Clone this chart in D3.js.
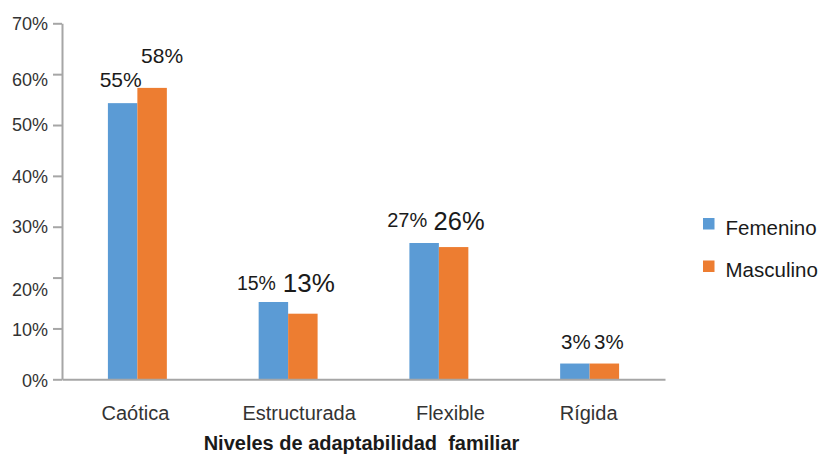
<!DOCTYPE html>
<html>
<head>
<meta charset="utf-8">
<script src="https://cdn.jsdelivr.net/npm/d3@7"></script>
<style>
  html, body { margin: 0; padding: 0; background: #fff; }
  svg { display: block; font-family: "Liberation Sans", Arial, sans-serif; }
</style>
</head>
<body>
<svg id="chart" width="825" height="455"></svg>
<script>
// ---- data ----
const categories = ["Caótica", "Estructurada", "Flexible", "Rígida"];
const seriesNames = ["Femenino", "Masculino"];
const femenino = [54.3, 15.2, 26.8, 3.1];
const masculino = [57.3, 12.9, 26.0, 3.1];
const femeninoLabels = ["55%", "15%", "27%", "3%"];
const masculinoLabels = ["58%", "13%", "26%", "3%"];
const yTickValues = [0, 10, 20, 30, 40, 50, 60, 70];
const yTickLabels = ["0%", "10%", "20%", "30%", "40%", "50%", "60%", "70%"];
const xAxisTitle = "Niveles de adaptabilidad  familiar";

// ---- styling (positions / sizes, kept apart from data) ----
const colors = ["#5B9BD5", "#ED7D31"];
const margin = { left: 62, right: 160, top: 23.3, bottom: 75.7 };
const W = 825, H = 455;
const yLabelShift = [1, 1.7, 11.7, 0.5, 1.3, 0, 6, 0.5];
const xLabelShift = [-2, 11, 11.5, -1];
const labelStyle = [
  // [dx, dyAbove, fontSize] per category, per series
  [[-2, 16.6, 21], [10, 24.4, 21]],
  [[-17, 11.7, 19.5], [6, 21.6, 26]],
  [[-17, 16, 20], [5.5, 17.4, 25.5]],
  [[1, 15, 20.5], [4.5, 15, 20.5]]
];

const svg = d3.select("#chart");
const plotBottom = H - margin.bottom;

const x0 = d3.scaleBand()
  .domain(categories)
  .range([margin.left, W - margin.right])
  .paddingInner(0.609)
  .paddingOuter(0.3045);
const x1 = d3.scaleBand()
  .domain(seriesNames)
  .range([0, x0.bandwidth()]);
const y = d3.scaleLinear().domain([0, 70]).range([plotBottom, margin.top]);

const values = [femenino, masculino];
const labels = [femeninoLabels, masculinoLabels];

// bars
const groups = svg.append("g").selectAll("g")
  .data(categories)
  .join("g")
  .attr("transform", d => `translate(${x0(d)},0)`);

groups.selectAll("rect")
  .data((c, i) => seriesNames.map((s, k) => ({ s, k, i, v: values[k][i] })))
  .join("rect")
  .attr("x", d => x1(d.s))
  .attr("width", x1.bandwidth())
  .attr("y", d => y(d.v))
  .attr("height", d => y(0) - y(d.v))
  .attr("fill", d => colors[d.k]);

// data labels
groups.selectAll("text")
  .data((c, i) => seriesNames.map((s, k) => ({ s, k, i, v: values[k][i], t: labels[k][i] })))
  .join("text")
  .attr("x", d => x1(d.s) + x1.bandwidth() / 2 + labelStyle[d.i][d.k][0])
  .attr("y", d => y(d.v) - labelStyle[d.i][d.k][1])
  .attr("text-anchor", "middle")
  .attr("font-size", d => labelStyle[d.i][d.k][2])
  .attr("fill", "#1a1a1a")
  .text(d => d.t);

// y axis
const yAxis = svg.append("g")
  .attr("transform", `translate(${margin.left},0)`)
  .call(d3.axisLeft(y).tickValues(yTickValues).tickSize(9).tickSizeOuter(0).tickPadding(5)
    .tickFormat((d, i) => yTickLabels[i]));
yAxis.selectAll("path, line").attr("stroke", "#a6a6a6").attr("stroke-width", 2);
yAxis.selectAll("text")
  .attr("font-size", 18)
  .attr("font-family", "Liberation Sans, Arial, sans-serif")
  .attr("fill", "#333")
  .attr("y", (d, i) => yLabelShift[i]);

// x axis
const xAxis = svg.append("g")
  .attr("transform", `translate(0,${plotBottom})`)
  .call(d3.axisBottom(x0).tickSize(0).tickSizeOuter(0));
xAxis.select(".domain").attr("stroke", "#a6a6a6").attr("stroke-width", 2);
xAxis.selectAll("text")
  .attr("font-size", 20)
  .attr("font-family", "Liberation Sans, Arial, sans-serif")
  .attr("fill", "#333")
  .attr("dy", 0)
  .attr("y", 40.7)
  .attr("dx", (d, i) => xLabelShift[i]);

// axis title
svg.append("text")
  .attr("x", 361.5)
  .attr("y", 450)
  .attr("text-anchor", "middle")
  .attr("font-size", 20)
  .attr("font-weight", "bold")
  .attr("fill", "#1a1a1a")
  .style("white-space", "pre")
  .text(xAxisTitle);

// legend
const legend = svg.append("g").selectAll("g")
  .data(seriesNames)
  .join("g")
  .attr("transform", (d, i) => `translate(703,${218 + i * 42.5})`);
legend.append("rect")
  .attr("width", 11.5).attr("height", 11.5)
  .attr("fill", (d, i) => colors[i]);
legend.append("text")
  .attr("x", 22.5).attr("y", 16.5)
  .attr("font-size", 20.5)
  .attr("fill", "#1a1a1a")
  .text(d => d);
</script>
</body>
</html>
